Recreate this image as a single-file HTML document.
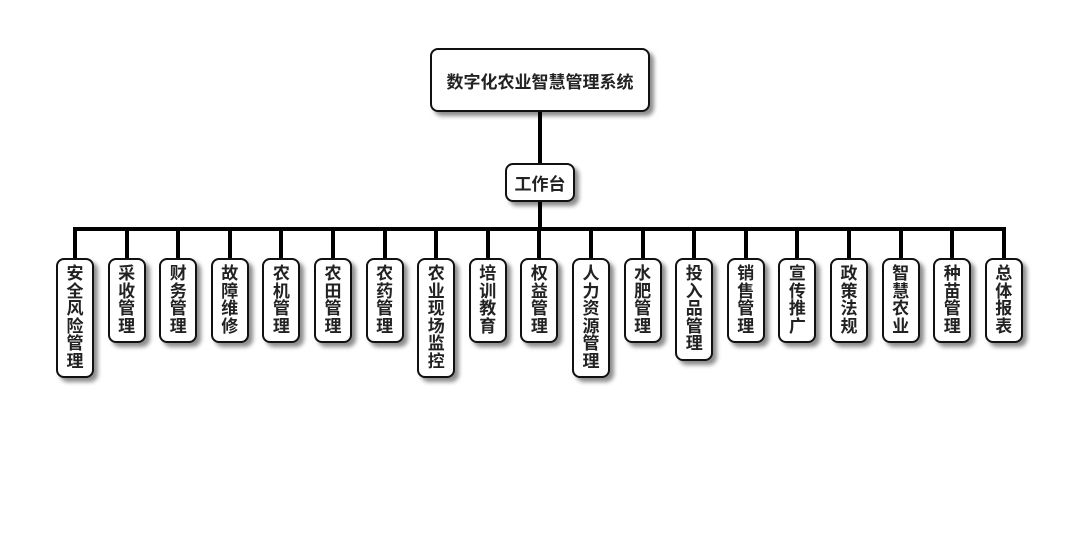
<!DOCTYPE html>
<html><head><meta charset="utf-8"><style>
body{margin:0;width:1080px;height:560px;background:#fff;position:relative;overflow:hidden;font-family:"Liberation Sans","Noto Sans CJK SC",sans-serif;}
.b{position:absolute;background:#fff;border:2px solid #111;border-radius:8px;box-shadow:4px 4px 4px rgba(0,0,0,.45);box-sizing:border-box;display:flex;align-items:center;justify-content:center;font-weight:bold;color:#222;}
.c{position:absolute;top:258px;width:38px;background:#fff;border:2px solid #111;border-radius:8px;box-shadow:4px 4px 4px rgba(0,0,0,.45);box-sizing:border-box;font-weight:bold;color:#222;font-size:17px;line-height:17.5px;text-align:center;padding:5px 8px 0 8px;word-break:break-all;}
.l{position:absolute;background:#000;}
</style></head><body>
<div class="l" style="left:538px;top:112px;width:4px;height:52px"></div>
<div class="l" style="left:538px;top:201px;width:4px;height:29px"></div>
<div class="l" style="left:73px;top:227px;width:933px;height:4px"></div>
<div class="b" style="left:430px;top:48px;width:220px;height:64px;font-size:17px">数字化农业智慧管理系统</div>
<div class="b" style="left:505px;top:163px;width:70px;height:39px;font-size:17px">工作台</div>
<div id="k"></div>
<script>
var n=["安全风险管理","采收管理","财务管理","故障维修","农机管理","农田管理","农药管理","农业现场监控","培训教育","权益管理","人力资源管理","水肥管理","投入品管理","销售管理","宣传推广","政策法规","智慧农业","种苗管理","总体报表"];
var h="";
for(var i=0;i<n.length;i++){var cx=75+i*51.6;var len=n[i].length;
h+='<div class="l" style="left:'+(cx-2)+'px;top:229px;width:4px;height:30px"></div>';
h+='<div class="c" style="left:'+(cx-19)+'px;height:'+(15+17.5*len)+'px">'+n[i]+'</div>';}
document.getElementById("k").innerHTML=h;
</script>
</body></html>
